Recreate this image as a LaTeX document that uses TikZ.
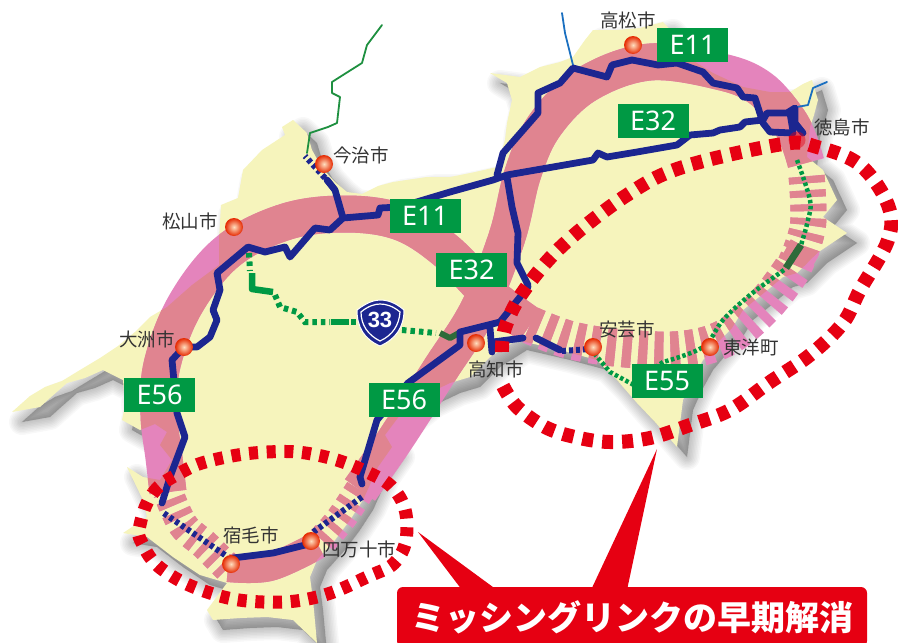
\documentclass[tikz,border=0pt]{standalone}
\usepackage{fontspec}
\newfontfamily\cjk{Noto Sans CJK JP}
\newfontfamily\signfont{Noto Sans}
\newfontfamily\shieldfont{Liberation Sans}
\definecolor{landc}{HTML}{F6F4BC}
\definecolor{rosec}{HTML}{E08490}
\definecolor{magc}{HTML}{E484BC}
\definecolor{roadc}{HTML}{1C2690}
\definecolor{signc}{HTML}{009944}
\definecolor{redc}{HTML}{E60012}
\definecolor{darkg}{HTML}{2E6B3A}
\definecolor{riverb}{HTML}{1A6FC0}
\definecolor{riverg}{HTML}{1E9040}
\definecolor{labelc}{HTML}{333333}
\def\landpath{(12,412) -- (30,396) -- (45,387) -- (62,381) -- (80,370) -- (100,358) -- (118,346) -- (135,332) -- (150,317) -- (167,307) -- (192,285) -- (219,265) -- (219,240) -- (221,205) -- (238,198) -- (243,170) -- (262,150) -- (285,135) -- (282,127) -- (293,120) -- (307,133) -- (312,150) -- (322,168) -- (335,182) -- (347,192) -- (362,194) -- (378,186) -- (393,182) -- (427,177) -- (450,177) -- (475,172) -- (497,167) -- (505,140) -- (507,123) -- (512,100) -- (507,83) -- (490,73) -- (520,77) -- (540,67) -- (560,62) -- (573,57) -- (585,40) -- (593,30) -- (617,30) -- (640,28) -- (663,22) -- (680,40) -- (692,60) -- (713,73) -- (743,87) -- (770,92) -- (790,92) -- (803,84) -- (812,80) -- (818,100) -- (814,115) -- (810,127) -- (807,157) -- (823,170) -- (837,200) -- (823,217) -- (847,233) -- (817,253) -- (807,263) -- (797,273) -- (783,277) -- (765,292) -- (743,310) -- (732,328) -- (720,340) -- (703,360) -- (692,380) -- (683,400) -- (677,447) -- (655,422) -- (637,403) -- (617,380) -- (597,360) -- (560,350) -- (517,340) -- (490,357) -- (470,377) -- (450,383) -- (425,395) -- (400,415) -- (385,435) -- (392,447) -- (378,467) -- (363,500) -- (350,520) -- (335,540) -- (317,560) -- (310,577) -- (313,600) -- (317,643) -- (293,620) -- (267,617) -- (240,618) -- (213,620) -- (207,610) -- (227,583) -- (200,575) -- (173,557) -- (147,537) -- (123,533) -- (147,517) -- (143,500) -- (127,467) -- (143,477) -- (160,480) -- (172,460) -- (160,445) -- (167,432) -- (155,424) -- (140,430) -- (122,420) -- (125,405) -- (123,380) -- (103,370) -- (85,378) -- (67,383) -- (50,398) -- (40,407) -- cycle}
\newcommand{\bandset}[1]{%
 \begin{scope}[draw=#1,line cap=butt,line join=round]
 \draw[line width=37pt] plot[smooth,tension=.6] coordinates {(168,492) (164,458) (159,415) (162,365) (185,305) (227,252) (285,222) (345,214) (400,222) (445,250) (490,295) (530,325)};
 \draw[line width=37pt] plot[smooth,tension=.6] coordinates {(806,163) (799,141) (787,118) (760,88) (722,72) (650,62) (587,84) (545,125) (523,173) (507,237) (478,310) (440,370) (395,440) (360,490)};
 \draw[line width=28pt] plot[smooth,tension=.6] coordinates {(318,545) (270,567) (228,568)};
 \draw[line width=38pt,dash pattern=on 9pt off 7pt] plot[smooth,tension=.6] coordinates {(530,325) (570,340) (620,348) (680,350) (725,338) (765,305) (795,265)};
 \draw[line width=36pt,dash pattern=on 7pt off 7pt] plot[smooth,tension=.6] coordinates {(795,265) (808,225) (806,170)};
 \draw[line width=32pt] (805,247) -- (797,262);
 \draw[line width=30pt,dash pattern=on 7pt off 7pt] plot[smooth,tension=.6] coordinates {(360,490) (340,520) (318,545)};
 \draw[line width=30pt,dash pattern=on 7pt off 7pt] plot[smooth,tension=.6] coordinates {(228,568) (205,545) (183,525) (168,492)};
 \end{scope}}
\tikzset{
 road/.style={draw=roadc,line width=6.8pt,line join=round,line cap=round},
 roaddash/.style={draw=roadc,line width=6pt,dash pattern=on 4pt off 3pt},
 greendot/.style={draw=signc,line width=6pt,dash pattern=on 4.5pt off 4pt},
 eastdot/.style={draw=signc,line width=4.5pt,dash pattern=on 3.5pt off 2.5pt},
 greensolid/.style={draw=signc,line width=6.5pt,line join=round},
 river/.style={line width=1.8pt,line join=round,line cap=round},
 redloop/.style={draw=redc,line width=13pt},
 sign/.style={fill=signc,text=white,font=\signfont\fontsize{27}{27}\selectfont,minimum width=71pt,minimum height=34pt,inner sep=0pt},
 city/.style={circle,draw=none,minimum size=18pt,inner sep=0pt,inner color=white!75!orange,outer color=red!65!orange!90!black},
 place/.style={text=labelc,font=\cjk\fontsize{18.5}{19}\selectfont,inner sep=0pt},
}
\begin{document}
\begin{tikzpicture}[x=1pt,y=-1pt]
\useasboundingbox (0,0) rectangle (898,643);
\fill[white] (0,0) rectangle (898,643);
% shadow
\foreach \w in {26,23,20,17,14,11,8,5,2}{
 \filldraw[shift={(10,10)},draw=black,fill=black,opacity=.028,line width=\w pt,line join=round] \landpath;
}
% land
\fill[landc] \landpath;
% bands
\bandset{magc}
\begin{scope}
 \clip \landpath;
 \bandset{rosec}
\end{scope}
% rivers
\draw[river,draw=riverg] plot coordinates {(382,25) (367,45) (362,63) (343,75) (332,82) (332,93) (340,97) (337,123) (328,127) (310,133) (307,153)};
\draw[river,draw=riverb] plot coordinates {(562,13) (565,33) (573,65)};
\draw[river,draw=riverb] plot coordinates {(827,82) (813,88) (808,105) (797,107)};
% route 33
\draw[greendot] (249,253) -- (250,271);
\draw[greensolid] (252,273) -- (252,289) -- (273,292);
\draw[greendot] (275,295) -- (280,307) -- (297,312) -- (305,322) -- (330,322);
\draw[greensolid] (331,322) -- (349,322);
\draw[greendot] (351,322) -- (358,322);
\draw[greendot] (402,330) -- (436,333);
\draw[draw=darkg,line width=6pt,line join=round] (440,333) -- (450,338) -- (459,333);
% E55
\draw[eastdot] plot[smooth,tension=.6] coordinates {(797,160) (810,200) (808,220) (801,245)};
\draw[draw=darkg,line width=7pt] (801,245) -- (786,268);
\draw[eastdot] plot[smooth,tension=.6] coordinates {(784,270) (750,295) (723,320) (703,347) (663,362)};
\draw[eastdot] (663,362) -- (632,384) -- (610,372) -- (593,352);
% roads
\draw[road] plot coordinates {(162,503) (170,477) (185,437) (177,413) (172,360) (184,347) (197,347) (210,337) (217,320) (213,310) (220,290) (217,273) (248,247) (265,252) (285,247) (290,257) (315,228) (330,230) (343,218) (378,215) (380,208) (400,207) (450,192) (493,180) (507,175) (553,167) (593,160) (598,153) (607,157) (637,152) (677,145) (690,135) (713,133) (720,130) (740,127) (745,122) (763,120) (767,113) (787,113) (795,108) (795,123) (803,133)};
\draw[road] (790,113) -- (793,131);
\draw[road] plot coordinates {(343,218) (335,190) (327,180)};
\draw[roaddash] (325,178) -- (305,156);
\draw[road] plot coordinates {(497,175) (503,153) (538,113) (538,93) (560,83) (573,68) (607,77) (612,65) (632,60) (658,65) (677,63) (703,72) (713,83) (737,88) (743,97) (755,98) (763,123) (770,132) (793,133)};
\draw[road] plot coordinates {(507,177) (512,207) (518,233) (517,263) (528,285)};
\draw[road] plot coordinates {(528,287) (500,322) (460,332) (460,345) (408,383) (377,420) (360,477) (362,484)};
\draw[road] (490,328) -- (492,352);
\draw[road] (493,342) -- (523,338);
\draw[road] (536,338) -- (560,350);
\draw[roaddash] (362,497) -- (312,533);
\draw[road] plot coordinates {(305,545) (273,553) (233,558)};
\draw[roaddash] (225,555) -- (162,512);
\draw[roaddash] (562,351) -- (590,349);
% red loops
\draw[redloop,dash pattern=on 9pt off 8.7pt] plot[smooth cycle,tension=.7] coordinates {(140,525) (153,493) (180,473) (213,460) (267,452) (317,455) (367,472) (397,493) (407,527) (397,560) (367,577) (317,597) (263,602) (210,593) (163,570) (142,543)};
\draw[redloop,line width=14pt,dash pattern=on 11pt off 9pt] plot[smooth,tension=.6] coordinates {(502,352) (505,328) (523,292) (563,245) (627,195) (683,167) (783,144) (817,147) (860,165) (888,205) (888,240) (860,290) (843,323) (810,355) (770,382) (730,410) (690,425) (650,438) (610,442) (575,437) (545,427) (517,407) (503,386)};
% route shield
\fill[roadc,draw=white,line width=1pt] (357,310) .. controls (366,303) and (374,300) .. (380,300) .. controls (388,300) and (396,303) .. (404,310) .. controls (404,327) and (396,339) .. (380,346) .. controls (364,339) and (357,327) .. (357,310) -- cycle;
\draw[white,line width=1.2pt] (361,312) .. controls (368,306) and (375,304) .. (380,304) .. controls (386,304) and (393,306) .. (400,312) .. controls (399,325) and (393,335) .. (380,341) .. controls (368,335) and (361,325) .. (361,312) -- cycle;
\node[text=white,font=\shieldfont\bfseries\fontsize{22}{22}\selectfont,inner sep=0pt] (r33) at (380,320) {33};
% signs
\node[sign] (s1) at (425,215.5) {E11};
\node[sign] (s2) at (471.5,270) {E32};
\node[sign] (s3) at (692.5,45) {E11};
\node[sign] (s4) at (653,121) {E32};
\node[sign] (s5) at (159.5,394.5) {E56};
\node[sign] (s6) at (404,400) {E56};
\node[sign] (s7) at (667,381) {E55};
% cities
\node[city] (c1) at (324,164) {};
\node[city] (c2) at (234,227) {};
\node[city] (c3) at (184,347) {};
\node[city] (c4) at (231,564) {};
\node[city] (c5) at (311,541) {};
\node[city] (c6) at (476,343) {};
\node[city] (c7) at (593,347) {};
\node[city] (c8) at (710,347) {};
\node[city] (c9) at (633,45) {};
\node[circle,minimum size=17pt,inner sep=0pt,fill=redc,fill opacity=.45] (c10) at (797,140) {};
% labels
\node[place] (l1) at (361,155) {今治市};
\node[place] (l2) at (190,221) {松山市};
\node[place] (l3) at (147,339) {大洲市};
\node[place] (l4) at (251,535) {宿毛市};
\node[place] (l5) at (359,549) {四万十市};
\node[place] (l6) at (496,369) {高知市};
\node[place] (l7) at (627,330) {安芸市};
\node[place] (l8) at (751,347) {東洋町};
\node[place] (l9) at (628,20) {高松市};
\node[place] (l10) at (842,127) {徳島市};
% callout
\fill[redc] (418,532) -- (497,590) -- (462,590) -- cycle;
\fill[redc] (657,449) -- (627,590) -- (591,590) -- cycle;
\node[fill=redc,rounded corners=6pt,minimum width=470pt,minimum height=60pt,inner sep=0pt,text=white,font=\cjk\bfseries\fontsize{34}{34}\selectfont] (banner) at (632,617) {ミッシングリンクの早期解消};
\end{tikzpicture}
\end{document}
